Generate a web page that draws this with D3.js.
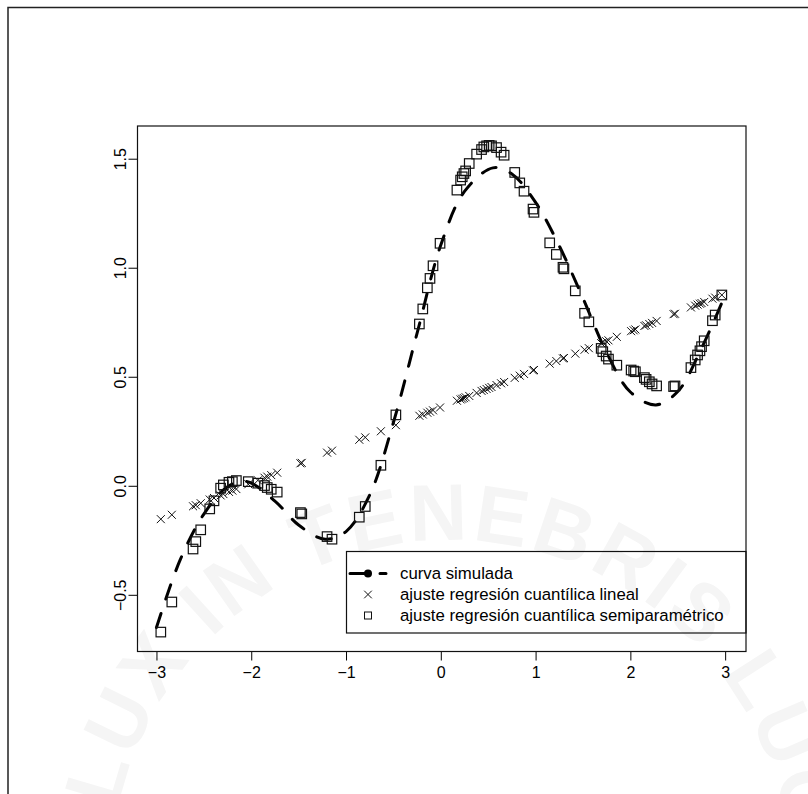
<!DOCTYPE html>
<html>
<head>
<meta charset="utf-8">
<script src="https://cdn.jsdelivr.net/npm/d3@7"></script>
<style>
  html, body { margin: 0; padding: 0; background: #fff; }
  svg { display: block; }
  text { font-family: "Liberation Sans", Arial, sans-serif; fill: #000; }
</style>
</head>
<body>
<svg id="chart" width="808" height="794"></svg>
<script>
// simulated curve (dashed)
const curveX = [-3, -2.75, -2.5, -2.25, -2.05, -1.75, -1.5, -1.22, -1, -0.75, -0.5, -0.25,
  0, 0.25, 0.55, 0.75, 1, 1.25, 1.5, 1.75, 2, 2.27, 2.5, 2.75, 3];
const curveY = [-0.65, -0.34, -0.13, -0.004, 0.02, -0.07, -0.18, -0.245, -0.21, -0.042, 0.29, 0.70,
  1.104, 1.35, 1.458, 1.43, 1.30, 1.10, 0.86, 0.61, 0.43, 0.371, 0.432, 0.63, 0.875];

// observation x values
const obsX = [-2.954, -2.838, -2.614, -2.585, -2.533, -2.438, -2.393, -2.323, -2.294, -2.235,
  -2.199, -2.157, -2.031, -1.930, -1.860, -1.831, -1.789, -1.726, -1.481, -1.467,
  -1.200, -1.148, -0.860, -0.797, -0.632, -0.474, -0.226, -0.190, -0.142, -0.114,
  -0.082, -0.008, 0.170, 0.209, 0.226, 0.244, 0.262, 0.300, 0.378, 0.430,
  0.454, 0.483, 0.510, 0.535, 0.588, 0.636, 0.668, 0.780, 0.833, 0.878,
  0.973, 0.983, 1.149, 1.219, 1.289, 1.299, 1.419, 1.517, 1.562, 1.692,
  1.709, 1.745, 1.769, 1.857, 2.008, 2.035, 2.053, 2.148, 2.166, 2.200,
  2.229, 2.277, 2.456, 2.471, 2.639, 2.684, 2.709, 2.734, 2.751, 2.779,
  2.866, 2.895, 2.965];

// linear quantile regression fit (crosses)
const linY = [-0.153, -0.133, -0.094, -0.089, -0.080, -0.063, -0.056, -0.044, -0.038, -0.028,
  -0.022, -0.015, 0.007, 0.025, 0.037, 0.042, 0.049, 0.060, 0.103, 0.105,
  0.152, 0.161, 0.211, 0.222, 0.250, 0.278, 0.321, 0.327, 0.335, 0.340,
  0.346, 0.359, 0.390, 0.396, 0.399, 0.402, 0.406, 0.412, 0.426, 0.435,
  0.439, 0.444, 0.449, 0.453, 0.462, 0.470, 0.476, 0.495, 0.505, 0.513,
  0.529, 0.531, 0.560, 0.572, 0.584, 0.586, 0.606, 0.624, 0.631, 0.654,
  0.657, 0.663, 0.667, 0.683, 0.709, 0.713, 0.717, 0.733, 0.736, 0.742,
  0.747, 0.756, 0.787, 0.789, 0.818, 0.826, 0.831, 0.835, 0.838, 0.843,
  0.858, 0.863, 0.875];

// semiparametric quantile regression fit (squares)
const semiY = [-0.671, -0.533, -0.290, -0.256, -0.202, -0.106, -0.069, -0.011, 0.004, 0.016,
  0.019, 0.024, 0.019, 0.012, 0.001, -0.008, -0.016, -0.029, -0.123, -0.129,
  -0.233, -0.245, -0.144, -0.095, 0.094, 0.325, 0.742, 0.811, 0.908, 0.951,
  1.009, 1.112, 1.356, 1.402, 1.417, 1.432, 1.444, 1.478, 1.521, 1.542,
  1.554, 1.559, 1.561, 1.559, 1.551, 1.530, 1.516, 1.437, 1.389, 1.351,
  1.269, 1.254, 1.114, 1.061, 1.002, 0.995, 0.894, 0.791, 0.752, 0.630,
  0.615, 0.595, 0.581, 0.553, 0.531, 0.526, 0.523, 0.496, 0.488, 0.477,
  0.467, 0.458, 0.455, 0.458, 0.542, 0.577, 0.600, 0.619, 0.638, 0.665,
  0.757, 0.783, 0.875];

const xTicks = [-3, -2, -1, 0, 1, 2, 3];
const yTicks = [-0.5, 0, 0.5, 1, 1.5];
const legendLabels = ['curva simulada', 'ajuste regresión cuantílica lineal',
  'ajuste regresión cuantílica semiparamétrico'];

const svg = d3.select('#chart');
const box = { left: 137.5, right: 746, top: 126, bottom: 651.5 };

// faint watermark seal
const wm = svg.append('g');
wm.append('path').attr('id', 'wm-arc')
  .attr('d', 'M 110,880 A 340,340 0 0 1 790,880')
  .attr('fill', 'none');
wm.append('text')
  .attr('font-family', '"DejaVu Sans", sans-serif')
  .attr('font-weight', 'bold')
  .attr('font-size', 80)
  .attr('letter-spacing', 4)
  .style('fill', '#f5f5f5')
  .append('textPath')
    .attr('href', '#wm-arc')
    .attr('startOffset', '50%')
    .attr('text-anchor', 'middle')
    .text('ET LUX IN TENEBRIS LUCET');

// outer frame
svg.append('path')
  .attr('d', 'M 8,808 L 8,7.5 L 808,7.5')
  .attr('fill', 'none').attr('stroke', '#222').attr('stroke-width', 1.5);

const x = d3.scaleLinear().domain([-3.2, 3.22]).range([box.left, box.right]);
const y = d3.scaleLinear().domain([-0.76, 1.65]).range([box.bottom, box.top]);

// axes
const gx = svg.append('g')
  .attr('transform', `translate(0,${box.bottom})`)
  .call(d3.axisBottom(x).tickValues(xTicks).tickFormat(d3.format('d')).tickSize(9).tickPadding(6));
gx.select('.domain').remove();
gx.selectAll('line').attr('stroke', '#000');
gx.selectAll('text').attr('font-size', 16).attr('font-family', '"Liberation Sans", Arial, sans-serif');

const gy = svg.append('g')
  .attr('transform', `translate(${box.left},0)`)
  .call(d3.axisLeft(y).tickValues(yTicks).tickSize(9).tickFormat(d3.format('.1f')));
gy.select('.domain').remove();
gy.selectAll('line').attr('stroke', '#000');
gy.selectAll('text')
  .attr('font-size', 16)
  .attr('font-family', '"Liberation Sans", Arial, sans-serif')
  .attr('text-anchor', 'middle')
  .attr('dy', null)
  .attr('x', null)
  .attr('transform', 'translate(-12,0) rotate(-90)');

// plot box
svg.append('rect')
  .attr('x', box.left).attr('y', box.top)
  .attr('width', box.right - box.left).attr('height', box.bottom - box.top)
  .attr('fill', 'none').attr('stroke', '#111').attr('stroke-width', 1.2);

// dashed simulated curve
const line = d3.line()
  .x(d => x(d[0]))
  .y(d => y(d[1]))
  .curve(d3.curveCatmullRom.alpha(0.5));

svg.append('path')
  .datum(curveX.map((v, i) => [v, curveY[i]]))
  .attr('d', line)
  .attr('fill', 'none')
  .attr('stroke', '#000')
  .attr('stroke-width', 3)
  .attr('stroke-dasharray', '15,15')
  .attr('stroke-linecap', 'round');

// crosses
const cs = 4;
svg.append('g').selectAll('path')
  .data(obsX.map((v, i) => [v, linY[i]]))
  .enter().append('path')
    .attr('transform', d => `translate(${x(d[0])},${y(d[1])})`)
    .attr('d', `M${-cs},${-cs}L${cs},${cs}M${-cs},${cs}L${cs},${-cs}`)
    .attr('stroke', '#111').attr('stroke-width', 1).attr('fill', 'none');

// squares
const sq = 9.5;
svg.append('g').selectAll('rect')
  .data(obsX.map((v, i) => [v, semiY[i]]))
  .enter().append('rect')
    .attr('x', d => x(d[0]) - sq / 2)
    .attr('y', d => y(d[1]) - sq / 2)
    .attr('width', sq).attr('height', sq)
    .attr('fill', 'none').attr('stroke', '#111').attr('stroke-width', 1.2);

// legend
const lg = svg.append('g');
lg.append('rect')
  .attr('x', 346.5).attr('y', 551.5).attr('width', box.right - 346.5).attr('height', 81.5)
  .attr('fill', '#fff').attr('fill-opacity', 0).attr('stroke', '#111').attr('stroke-width', 1.2);

const rowY = [573.5, 594.5, 615.5];
const symX = 368;
lg.append('line')
  .attr('x1', 350).attr('x2', 386).attr('y1', rowY[0]).attr('y2', rowY[0])
  .attr('stroke', '#000').attr('stroke-width', 3)
  .attr('stroke-dasharray', '15,15').attr('stroke-linecap', 'round');
lg.append('circle').attr('cx', symX).attr('cy', rowY[0]).attr('r', 4).attr('fill', '#000');
const lcs = 3.8;
lg.append('path')
  .attr('d', `M${symX - lcs},${rowY[1] - lcs}L${symX + lcs},${rowY[1] + lcs}M${symX - lcs},${rowY[1] + lcs}L${symX + lcs},${rowY[1] - lcs}`)
  .attr('stroke', '#111').attr('stroke-width', 1);
lg.append('rect')
  .attr('x', symX - 3.5).attr('y', rowY[2] - 3.5).attr('width', 7).attr('height', 7)
  .attr('fill', 'none').attr('stroke', '#111').attr('stroke-width', 1);

lg.selectAll('text.lab')
  .data(legendLabels).enter().append('text')
    .attr('class', 'lab')
    .attr('x', 400)
    .attr('y', (d, i) => rowY[i] + 5.5)
    .attr('font-size', 16.8)
    .text(d => d);
</script>
</body>
</html>
